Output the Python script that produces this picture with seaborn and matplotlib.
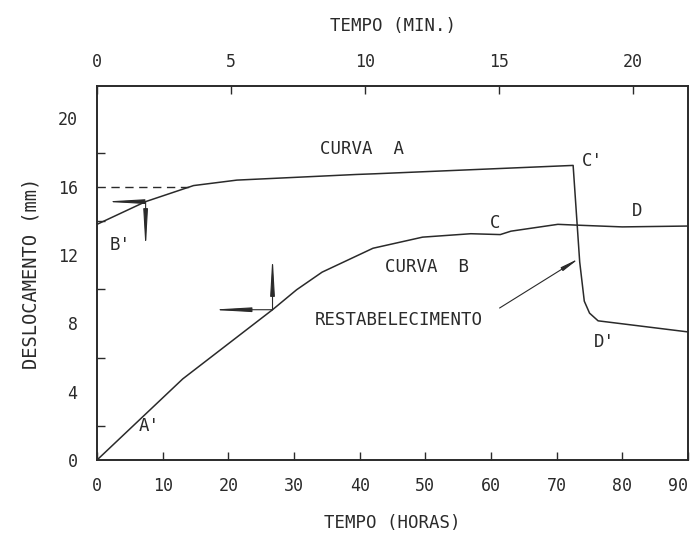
import matplotlib
matplotlib.use("Agg")
import matplotlib.pyplot as plt
import pandas as pd
import seaborn as sns

# Curve A: displacement (mm) against elapsed time in hours (bottom axis)
horas_a = [0.0, 7.4, 14.7, 21.3, 39.5, 42.3, 72.5, 73.5, 74.2, 75.0, 76.3, 90.0]
desl_a = [13.8, 15.13, 16.07, 16.39, 16.72, 16.76, 17.25, 11.6, 9.3, 8.6, 8.15, 7.5]

# Curve B: displacement (mm) against elapsed time in minutes (top axis)
min_b = [0.0, 3.2, 6.55, 7.45, 8.4, 10.3, 12.15, 13.95, 15.05, 15.45, 17.2, 17.95, 19.6, 22.05]
desl_b = [0.0, 4.75, 8.8, 9.97, 11.0, 12.4, 13.05, 13.25, 13.2, 13.4, 13.8, 13.75, 13.65, 13.7]

# reference level reached by curve A
nivel_a = 16.0
nivel_a_ate = 14.7

# axis ticks
ticks_horas = [0, 10, 20, 30, 40, 50, 60, 70, 80, 90]
ticks_min = [0, 5, 10, 15, 20]
ticks_desl = [0, 4, 8, 12, 16, 20]
ticks_desl_menor = [2, 6, 10, 14, 18]

HORAS_MAX = 90.0
HORAS_POR_MIN = 4.08
DESL_MAX = 21.9

INK = "#2a2a2a"
FONT = ["DejaVu Sans Mono", "DejaVu Sans"]

sns.set_theme(style="white")
plt.rcParams["font.family"] = FONT
plt.rcParams["text.color"] = INK
plt.rcParams["axes.labelcolor"] = INK
plt.rcParams["xtick.color"] = INK
plt.rcParams["ytick.color"] = INK

df_a = pd.DataFrame({"horas": horas_a, "desl": desl_a})
df_b = pd.DataFrame({"min": min_b, "desl": desl_b})

fig = plt.figure(figsize=(6.95, 5.44), dpi=100)
ax = fig.add_axes([0.1396, 0.1544, 0.8504, 0.6875])
ax2 = ax.twiny()

sns.lineplot(data=df_a, x="horas", y="desl", ax=ax, sort=False,
             color=INK, linewidth=1.1, estimator=None)
sns.lineplot(data=df_b, x="min", y="desl", ax=ax2, sort=False,
             color=INK, linewidth=1.1, estimator=None)

ax.plot([0, nivel_a_ate], [nivel_a, nivel_a], color=INK, linewidth=1.0,
        dashes=(6, 4))

ax.set_xlim(0, HORAS_MAX)
ax.set_ylim(0, DESL_MAX)
ax2.set_xlim(0, HORAS_MAX / HORAS_POR_MIN)

for a in (ax, ax2):
    for s in a.spines.values():
        s.set_color(INK)
        s.set_linewidth(1.2)

ax.set_xticks(ticks_horas)
ax.set_xticklabels([str(t) for t in ticks_horas])
ax.set_yticks(ticks_desl)
ax.set_yticklabels([str(t) for t in ticks_desl])
ax.set_yticks(ticks_desl_menor, minor=True)
ax.tick_params(axis="x", direction="in", length=6, width=1.0, pad=12,
               labelsize=12, top=False)
ax.tick_params(axis="y", direction="in", length=6, width=1.0, pad=14,
               labelsize=12, right=False)
ax.tick_params(axis="y", which="minor", direction="in", length=6, width=1.0,
               left=True, right=False)
# keep the last hour label inside the figure
ax.get_xticklabels()[-1].set_horizontalalignment("right")

ax2.set_xticks(ticks_min)
ax2.set_xticklabels([str(t) for t in ticks_min])
ax2.tick_params(axis="x", direction="in", length=6, width=1.0, pad=11,
                labelsize=12, bottom=False)
ax2.set_ylabel("")

ax.set_xlabel("TEMPO (HORAS)", fontsize=12.5, labelpad=14)
ax.set_ylabel("DESLOCAMENTO (mm)", fontsize=13.5, labelpad=12)
ax2.set_xlabel("TEMPO (MIN.)", fontsize=12.5, labelpad=16)

# curve captions and point letters
txt = dict(fontsize=12.5, color=INK, ha="center", va="center")
ax.text(40.3, 18.2, "CURVA  A", **txt)
ax.text(50.3, 11.3, "CURVA  B", **txt)
ax.text(46.0, 8.2, "RESTABELECIMENTO", **txt)
ax.text(3.5, 12.6, "B'", **txt)
ax.text(75.5, 17.5, "C'", **txt)
ax.text(60.6, 13.9, "C", **txt)
ax.text(82.3, 14.6, "D", **txt)
ax.text(77.2, 6.9, "D'", **txt)
ax.text(8.0, 2.0, "A'", **txt)

# leader from the caption to the recovery drop
ax.annotate("", xy=(73.4, 11.8), xytext=(61.3, 8.9),
            arrowprops=dict(arrowstyle="-|>,head_length=0.9,head_width=0.1",
                            color=INK, lw=0.8, shrinkA=0, shrinkB=0))

# axis-reading arrows for curve A (hours)
seta = dict(arrowstyle="-|>,head_length=1.9,head_width=0.11",
            color=INK, lw=0.8, shrinkA=0, shrinkB=0)
ax.annotate("", xy=(1.0, 15.13), xytext=(7.4, 15.13), arrowprops=seta)
ax.annotate("", xy=(7.4, 12.3), xytext=(7.4, 15.13), arrowprops=seta)

# axis-reading arrows for curve B (minutes)
ax2.annotate("", xy=(17.3 / HORAS_POR_MIN, 8.8), xytext=(6.55, 8.8),
             arrowprops=seta)
ax2.annotate("", xy=(6.55, 12.0), xytext=(6.55, 8.8), arrowprops=seta)

fig.savefig("out.png", dpi=100)
